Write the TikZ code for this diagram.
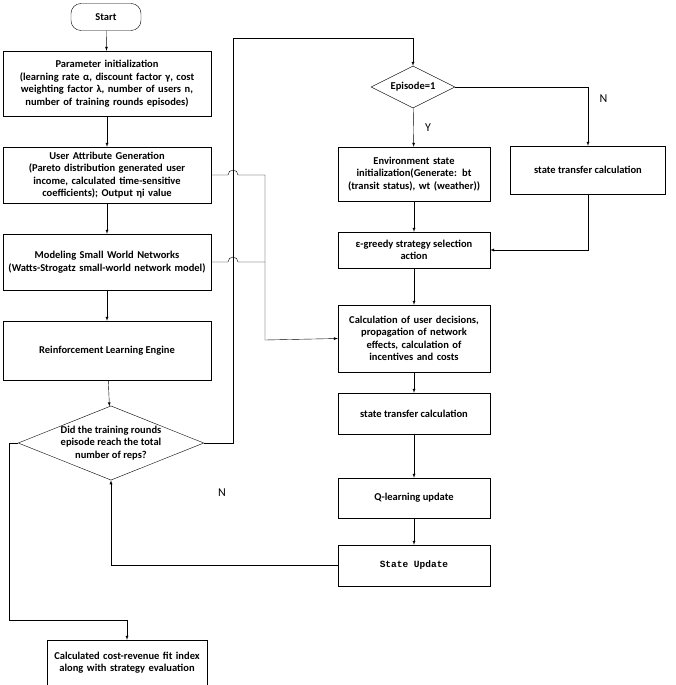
\documentclass[tikz,border=0pt]{standalone}
\usepackage{fontspec}
\setmainfont{Carlito}
\newfontfamily\monofnt{Liberation Mono}
\usetikzlibrary{positioning}
\usetikzlibrary{calc}
\usetikzlibrary{arrows,shapes}
\hyphenpenalty=10000
\exhyphenpenalty=10000

\begin{document}
\begin{tikzpicture}[x=1pt,y=-1pt,
box/.style={draw,align=center,font=\bfseries\fontsize{10.5}{12.5}\selectfont,inner sep=1pt},
dec/.style={diamond,draw,aspect=2.5,align=center,inner sep=0pt,font=\bfseries\fontsize{10.5}{12.5}\selectfont}]
\useasboundingbox (0,0) rectangle (676,685);
\node[box,rounded corners=10pt,minimum width=70pt,minimum height=27pt](start) at (106,17){Start};
\node[box,minimum width=208pt,minimum height=65pt,text width=206pt](init) at (107,83.5){Parameter initialization\\(learning rate α, discount factor γ, cost weighting factor λ, number of users n, number of training rounds episodes)};
\node[box,minimum width=208pt,minimum height=56pt,text width=206pt](attr) at (107,175){User Attribute Generation\\(Pareto distribution generated user income, calculated time-sensitive coefficients); Output ηi value};
\node[box,minimum width=208pt,minimum height=56pt,text width=206pt](net) at (107,262){Modeling Small World Networks\\(Watts-Strogatz small-world network model)};
\node[box,minimum width=208pt,minimum height=59pt](rl) at (107,350.5){Reinforcement Learning Engine};
\node[dec,minimum width=166pt,minimum height=67pt](reps) at (111,443){Did the training rounds\\episode reach the total\\number of reps?};
\node[box,minimum width=160pt,minimum height=45pt,text width=158pt](final) at (127,662.5){Calculated cost-revenue fit index along with strategy evaluation};
\node[dec,minimum width=84pt,minimum height=42pt](epi) at (413,87){Episode=1};
\node[box,minimum width=152pt,minimum height=54pt,text width=150pt](env) at (414,174){Environment state initialization(Generate: bt (transit status), wt (weather))};
\node[box,minimum width=155pt,minimum height=48pt](trans1) at (588,170){state transfer calculation};
\node[box,minimum width=152pt,minimum height=36pt](greedy) at (414,250){ε-greedy strategy selection\\action};
\node[box,minimum width=152pt,minimum height=67pt,text width=150pt](calc) at (414,338.5){Calculation of user decisions, propagation of network effects, calculation of incentives and costs};
\node[box,minimum width=152pt,minimum height=41pt](trans2) at (414,413.5){state transfer calculation};
\node[box,minimum width=152pt,minimum height=40pt](ql) at (414,498){Q-learning update};
\node[box,minimum width=152pt,minimum height=41pt,font=\monofnt\bfseries\fontsize{9.5}{11}\selectfont](upd) at (414,565.5){State Update};
\coordinate(hopA) at (233,175);
\coordinate(hopB) at (233,262);

\path[draw,-latex]
(start) edge (init)
(init) edge (attr)
(attr) edge (net)
(net) edge (rl)
(rl) edge (reps)
(epi) edge node[right=8pt,pos=0.5,font=\fontsize{12}{12}\selectfont]{Y} (env)
(env) edge (greedy)
(greedy) edge (calc)
(calc) edge (trans2)
(trans2) edge (ql)
(ql) edge (upd);
\draw[-latex] (reps.east) -| (233,38) -| (epi.north);
\draw[-latex] (epi.east) -| node[pos=0.6,right=8pt,font=\fontsize{12}{12}\selectfont]{N} (trans1.north);
\draw[-latex] (trans1.south) |- (greedy.east);
\draw (attr.east) -- ($(hopA)+(-5,0)$) arc[start angle=180,end angle=360,radius=5] -- (265,175) -- (265,340);
\draw (net.east) -- ($(hopB)+(-5,0)$) arc[start angle=180,end angle=360,radius=5] -- (265,262);
\draw[-latex] (265,340) -- (calc.west);
\draw[-latex] (upd.west) -| (reps.south);
\node[font=\fontsize{12}{12}\selectfont] at (222,493){N};
\draw[-latex] (reps.west) -| (9,620) -| (final.north);
\end{tikzpicture}
\end{document}
